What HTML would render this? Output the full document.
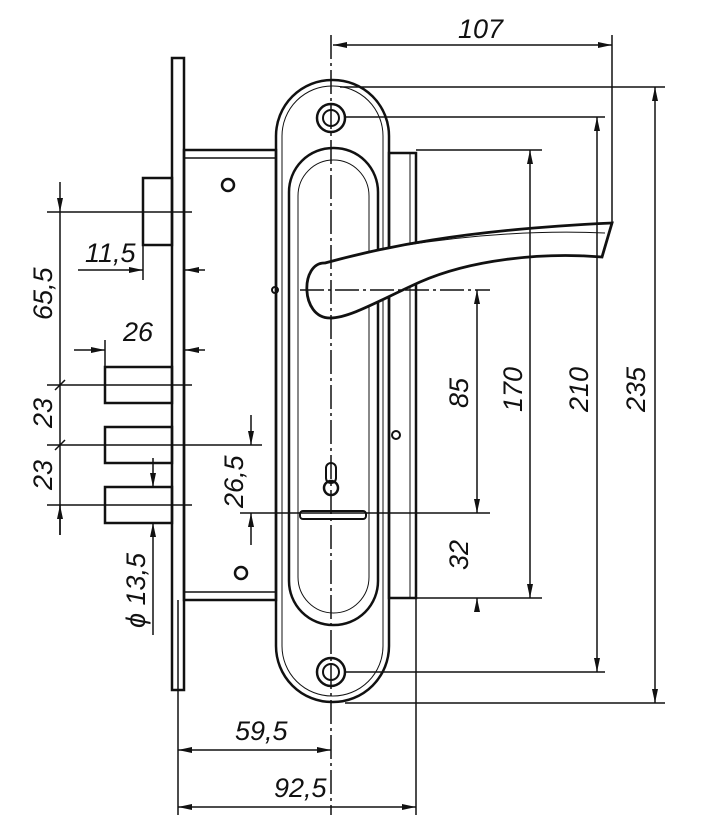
<!DOCTYPE html>
<html><head><meta charset="utf-8"><style>
html,body{margin:0;padding:0;background:#fff;}
svg{display:block;}
text{font-family:"Liberation Sans Narrow","Liberation Sans",sans-serif;font-style:italic;font-size:27px;fill:#111;}
</style></head><body>
<svg width="718" height="824" viewBox="0 0 718 824" xmlns="http://www.w3.org/2000/svg">
<defs>
<marker id="a" viewBox="0 0 14 6" refX="14" refY="3" markerWidth="14" markerHeight="6" orient="auto-start-reverse" markerUnits="userSpaceOnUse"><path d="M0,0 L14,3 L0,6 z" fill="#111"/></marker>
</defs>
<g stroke="#111" fill="none">
<rect x="172" y="58" width="12" height="632" stroke-width="2.5"/>
<rect x="184" y="150" width="92" height="450" stroke-width="2.5"/>
<line x1="184" y1="158" x2="276" y2="158" stroke-width="1.5"/>
<line x1="184" y1="592" x2="276" y2="592" stroke-width="1.5"/>
<rect x="389" y="153" width="27" height="445" stroke-width="2.5"/>
<line x1="410" y1="153" x2="410" y2="598" stroke-width="1"/>
<rect x="143" y="178" width="29" height="67" stroke-width="2.5"/>
<rect x="105" y="367" width="67" height="36" stroke-width="2.5"/>
<rect x="105" y="427" width="67" height="36" stroke-width="2.5"/>
<rect x="105" y="487" width="67" height="36" stroke-width="2.5"/>
<circle cx="228" cy="185" r="6" stroke-width="2.5"/>
<circle cx="241" cy="573" r="6" stroke-width="2.5"/>
<rect x="276" y="80" width="113" height="622" rx="56" stroke-width="2.5"/>
<rect x="282" y="86" width="101" height="610" rx="50" stroke-width="1"/>
<rect x="289" y="148" width="89" height="477" rx="44" stroke-width="2.5"/>
<rect x="298" y="160" width="71" height="453" rx="36" stroke-width="1"/>
<circle cx="331" cy="118" r="14" stroke-width="2.5"/>
<circle cx="331" cy="118" r="8" stroke-width="2"/>
<circle cx="331" cy="672" r="14" stroke-width="2.5"/>
<circle cx="331" cy="672" r="8" stroke-width="2"/>
<path d="M325,263 C380,248 460,230 612,223 L602,257 C540,252 470,260 420,282 C380,300 350,318 330,318 C300,318 300,262 325,263 Z" fill="#fff" stroke-width="2.8"/>
<path d="M400,246 C470,235 540,230 605,233" stroke-width="1"/>
<circle cx="331" cy="488" r="7" stroke-width="2.5"/>
<rect x="326" y="463" width="10" height="20" rx="5" stroke-width="2"/>
<rect x="300" y="511" width="66" height="8" rx="3" stroke-width="2"/>
<circle cx="396" cy="435" r="4" stroke-width="2"/>
<circle cx="275" cy="290" r="3" stroke-width="2"/>
</g>
<g stroke="#111" stroke-width="1.5" fill="none">
<line x1="331" y1="35" x2="331" y2="815" stroke-dasharray="24,4,3,4"/>
<line x1="300" y1="290" x2="490" y2="290" stroke-dasharray="24,4,3,4"/>
<line x1="612" y1="35" x2="612" y2="225"/>
<line x1="340" y1="87" x2="665" y2="87"/>
<line x1="345" y1="703" x2="665" y2="703"/>
<line x1="345" y1="117" x2="605" y2="117"/>
<line x1="345" y1="672" x2="605" y2="672"/>
<line x1="416" y1="150" x2="542" y2="150"/>
<line x1="416" y1="598" x2="542" y2="598"/>
<line x1="240" y1="513" x2="490" y2="513"/>
<line x1="178" y1="600" x2="178" y2="815"/>
<line x1="416" y1="598" x2="416" y2="815"/>
<line x1="47" y1="212" x2="192" y2="212"/>
<line x1="47" y1="385" x2="192" y2="385"/>
<line x1="47" y1="445" x2="262" y2="445"/>
<line x1="47" y1="505" x2="192" y2="505"/>
<line x1="143" y1="245" x2="143" y2="280"/>
<line x1="105" y1="340" x2="105" y2="367"/>
<line x1="333" y1="45" x2="612" y2="45" marker-start="url(#a)" marker-end="url(#a)"/>
<line x1="655" y1="87" x2="655" y2="703" marker-start="url(#a)" marker-end="url(#a)"/>
<line x1="597" y1="117" x2="597" y2="672" marker-start="url(#a)" marker-end="url(#a)"/>
<line x1="530" y1="150" x2="530" y2="598" marker-start="url(#a)" marker-end="url(#a)"/>
<line x1="477" y1="290" x2="477" y2="513" marker-start="url(#a)" marker-end="url(#a)"/>
<line x1="477" y1="612" x2="477" y2="598" marker-end="url(#a)"/>
<line x1="178" y1="750" x2="331" y2="750" marker-start="url(#a)" marker-end="url(#a)"/>
<line x1="178" y1="807" x2="416" y2="807" marker-start="url(#a)" marker-end="url(#a)"/>
<line x1="60" y1="182" x2="60" y2="212" marker-end="url(#a)"/>
<line x1="60" y1="212" x2="60" y2="535"/>
<line x1="60" y1="535" x2="60" y2="505" marker-end="url(#a)"/>
<line x1="55" y1="390" x2="65" y2="380"/>
<line x1="55" y1="450" x2="65" y2="440"/>
<line x1="78" y1="270" x2="143" y2="270" marker-end="url(#a)"/>
<line x1="205" y1="270" x2="185" y2="270" marker-end="url(#a)"/>
<line x1="74" y1="350" x2="105" y2="350" marker-end="url(#a)"/>
<line x1="205" y1="350" x2="185" y2="350" marker-end="url(#a)"/>
<line x1="251" y1="415" x2="251" y2="445" marker-end="url(#a)"/>
<line x1="251" y1="545" x2="251" y2="513" marker-end="url(#a)"/>
<line x1="153" y1="458" x2="153" y2="487" marker-end="url(#a)"/>
<line x1="153" y1="635" x2="153" y2="523" marker-end="url(#a)"/>
</g>
<text x="458" y="38">107</text>
<text x="235" y="740">59,5</text>
<text x="274" y="797">92,5</text>
<text x="85" y="262">11,5</text>
<text x="123" y="341">26</text>
<text transform="translate(645,412) rotate(-90)">235</text>
<text transform="translate(588,412) rotate(-90)">210</text>
<text transform="translate(522,412) rotate(-90)">170</text>
<text transform="translate(468,408) rotate(-90)">85</text>
<text transform="translate(468,570) rotate(-90)">32</text>
<text transform="translate(52,320) rotate(-90)">65,5</text>
<text transform="translate(52,428) rotate(-90)">23</text>
<text transform="translate(52,490) rotate(-90)">23</text>
<text transform="translate(243,508) rotate(-90)">26,5</text>
<text transform="translate(145,628) rotate(-90)">ϕ 13,5</text>
</svg>
</body></html>
